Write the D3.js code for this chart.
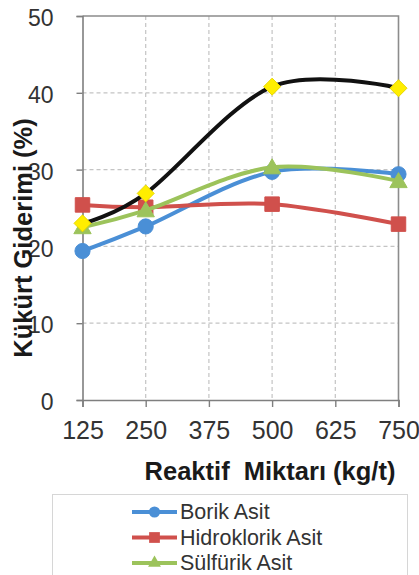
<!DOCTYPE html>
<html>
<head>
<meta charset="utf-8">
<script src="https://cdn.jsdelivr.net/npm/d3@7/dist/d3.min.js"></script>
<style>
  html, body { margin: 0; padding: 0; background: #fff; }
  svg { display: block; font-family: "Liberation Sans", Arial, sans-serif; }
</style>
</head>
<body>
<svg id="chart" width="419" height="575"></svg>
<script>
// ---- data ----
const xValues = [125, 250, 500, 750];
const xTicks = [125, 250, 375, 500, 625, 750];
const yTicks = [0, 10, 20, 30, 40, 50];
const seriesNames = ["Borik Asit", "Hidroklorik Asit", "Sülfürik Asit", "Seri 4"];
const borik = [19.4, 22.6, 29.7, 29.4];
const hidroklorik = [25.4, 25.1, 25.5, 22.9];
const sulfurik = [22.5, 24.7, 30.3, 28.5];
const seri4 = [23.0, 26.9, 40.8, 40.6];
const seriesValues = [borik, hidroklorik, sulfurik, seri4];

// ---- styles ----
const lineColors = ["#4a8fd6", "#d0504c", "#9cc35b", "#111111"];
const markerFill = ["#4a8fd6", "#d0504c", "#9cc35b", "#ffee00"];
const markerType = [d3.symbolCircle, d3.symbolSquare, d3.symbolTriangle, "diamond"];
const markerSize = [180, 210, 130, 130];

const svg = d3.select("#chart");
const pLeft = 82.5, pRight = 398.5, pTop = 16, pBottom = 400;
const x = d3.scaleLinear().domain([125, 750]).range([pLeft, pRight]);
const y = d3.scaleLinear().domain([0, 50]).range([pBottom, pTop]);

// gridlines
svg.append("g").selectAll("line").data(yTicks.filter(d => d > 0 && d < 50)).join("line")
  .attr("x1", pLeft).attr("x2", pRight).attr("y1", d => y(d)).attr("y2", d => y(d))
  .attr("stroke", "#c4c4c4").attr("stroke-width", 1.2).attr("stroke-dasharray", "4,3");
svg.append("g").selectAll("line").data(xTicks.filter(d => d > 125 && d < 750)).join("line")
  .attr("x1", d => x(d)).attr("x2", d => x(d)).attr("y1", pTop).attr("y2", pBottom)
  .attr("stroke", "#c4c4c4").attr("stroke-width", 1.2).attr("stroke-dasharray", "4,3");

// plot border (top, right)
svg.append("path")
  .attr("d", `M${pLeft},${pTop}H${pRight}V${pBottom}`)
  .attr("fill", "none").attr("stroke", "#8c8c8c").attr("stroke-width", 1.6);

// axes
const yAxis = svg.append("g").attr("transform", `translate(${pLeft},0)`)
  .call(d3.axisLeft(y).tickValues(yTicks).tickSize(6).tickPadding(23).tickFormat(d3.format("d")));
const xAxis = svg.append("g").attr("transform", `translate(0,${pBottom})`)
  .call(d3.axisBottom(x).tickValues(xTicks).tickSize(7).tickPadding(14).tickFormat(d3.format("d")));
[xAxis, yAxis].forEach(a => {
  a.select(".domain").attr("stroke", "#7f7f7f").attr("stroke-width", 1.6);
  a.selectAll(".tick line").attr("stroke", "#7f7f7f").attr("stroke-width", 1.4);
});
yAxis.selectAll(".tick text").attr("font-size", 23).attr("fill", "#333").attr("dy", "0.42em");
xAxis.selectAll(".tick text").attr("font-size", 25).attr("fill", "#333");

// lines & markers
const line = d3.line().x((d, i) => x(xValues[i])).y(d => y(d)).curve(d3.curveCatmullRom.alpha(0));
function markerPath(i) {
  if (markerType[i] === "diamond") {
    return "M0,-8.5L8.5,0L0,8.5L-8.5,0Z";
  }
  return d3.symbol().type(markerType[i]).size(markerSize[i])();
}
seriesValues.forEach((vals, i) => {
  const g = svg.append("g");
  g.append("path").attr("d", line(vals)).attr("fill", "none")
    .attr("stroke", lineColors[i]).attr("stroke-width", 4).attr("stroke-linejoin", "round");
  g.selectAll("path.m").data(vals).join("path").attr("class", "m")
    .attr("d", markerPath(i))
    .attr("transform", (d, j) => `translate(${x(xValues[j])},${y(d) + (markerType[i] === d3.symbolTriangle ? 1.5 : 0)})`)
    .attr("fill", markerFill[i])
    .attr("stroke", i === 3 ? "#e8d800" : markerFill[i]).attr("stroke-width", 1);
});

// axis titles
svg.append("text").attr("x", 270).attr("y", 480).attr("text-anchor", "middle")
  .attr("font-size", 25.5).attr("font-weight", "bold").attr("fill", "#1a1a1a")
  .attr("xml:space", "preserve").style("white-space", "pre")
  .text("Reaktif  Miktarı (kg/t)");
svg.append("text").attr("transform", "translate(32,238) rotate(-90)").attr("text-anchor", "middle")
  .attr("font-size", 25.5).attr("font-weight", "bold").attr("fill", "#1a1a1a")
  .text("Kükürt Giderimi (%)");

// legend (only three rows are visible in the frame)
svg.append("rect").attr("x", 52.5).attr("y", 494.5).attr("width", 355).attr("height", 110)
  .attr("fill", "#fff").attr("stroke", "#d6d6d6").attr("stroke-width", 1);
const legendRows = [0, 1, 2];
const lg = svg.append("g").selectAll("g").data(legendRows).join("g")
  .attr("transform", d => `translate(0,${512 + d * 25.5})`);
lg.append("line").attr("x1", 132).attr("x2", 177).attr("y1", 0).attr("y2", 0)
  .attr("stroke", d => lineColors[d]).attr("stroke-width", 4);
lg.append("path").attr("d", d => d3.symbol().type(markerType[d]).size(markerSize[d] * 0.55)())
  .attr("transform", "translate(154.5,0)").attr("fill", d => markerFill[d]);
lg.append("text").attr("x", 180).attr("y", 0).attr("dy", "0.34em")
  .attr("font-size", 21.5).attr("fill", "#333").text(d => seriesNames[d]);
</script>
</body>
</html>
